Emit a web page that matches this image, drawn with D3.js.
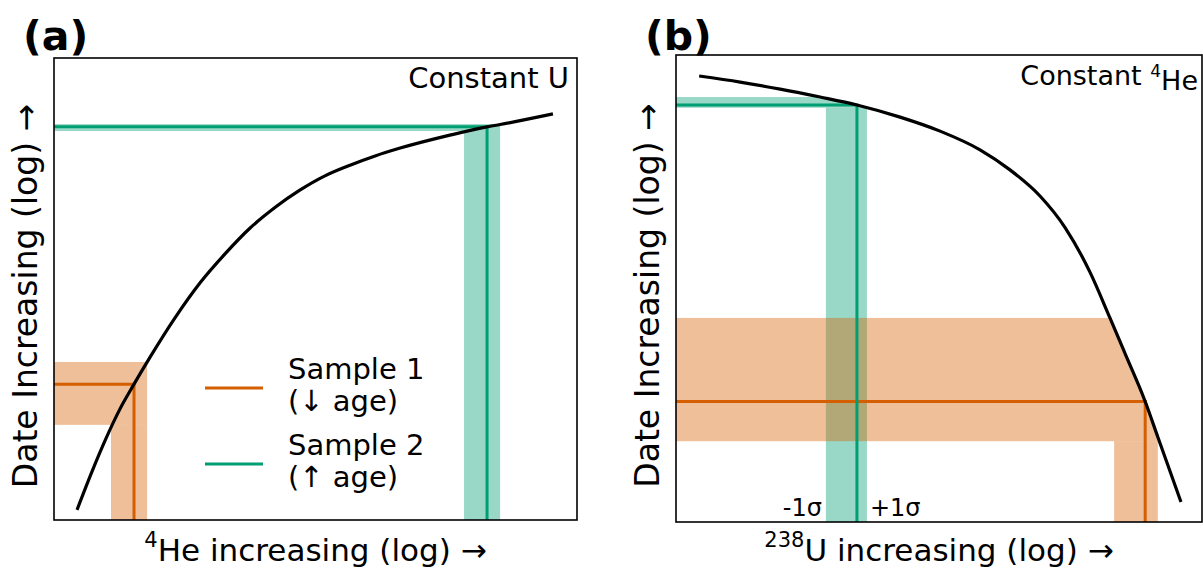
<!DOCTYPE html>
<html>
<head>
<meta charset="utf-8">
<script src="https://cdn.jsdelivr.net/npm/d3@7"></script>
<style>
  body { margin: 0; background: #fff; }
  svg text { font-family: "DejaVu Sans", sans-serif; fill: #000; }
</style>
</head>
<body>
<div id="chart"></div>
<script>
//data (both axes are relative log units, 0-100 across each panel)
//panel a: date vs 4He at constant U
var curveA = [
    [4.4, 2.2], [7.3, 10.6], [9.8, 17.3], [12.6, 24.0], [15.3, 29.4], [18.4, 35.3],
    [23.1, 43.7], [27.9, 51.3], [32.7, 57.6], [37.5, 63.2], [42.3, 67.7], [47.0, 71.4],
    [51.8, 74.5], [56.6, 76.8], [61.4, 78.8], [66.2, 80.5], [75.7, 83.3], [82.8, 85.1],
    [85.3, 85.6], [95.4, 87.9]
];
//panel b: date vs 238U at constant 4He
var curveB = [
    [4.4, 95.5], [12.2, 94.2], [19.8, 92.7], [27.4, 91.0], [34.4, 89.3], [42.6, 86.7],
    [50.2, 83.7], [57.8, 79.7], [63.5, 75.4], [69.2, 69.8], [74.0, 63.0], [78.7, 53.5],
    [82.5, 43.7], [85.4, 36.0], [89.2, 25.8], [91.6, 18.2], [96.0, 4.3]
];

//samples: x, x -1s, x +1s, date, date low, date high
var samplesA = [
    {name: 'Sample 1', x: 15.3, xLo: 10.9, xHi: 17.8, y: 29.4, yLo: 20.6, yHi: 34.2},
    {name: 'Sample 2', x: 82.8, xLo: 78.4, xHi: 85.3, y: 85.1, yLo: 84.2, yHi: 85.7}
];
var samplesB = [
    {name: 'Sample 1', x: 89.2, xLo: 83.3, xHi: 91.6, y: 25.8, yLo: 17.3, yHi: 43.7},
    {name: 'Sample 2', x: 34.4, xLo: 28.5, xHi: 36.3, y: 89.3, yLo: 88.7, yHi: 91.0}
];

var legendLabels = [['Sample 1', '(\u2193 age)'], ['Sample 2', '(\u2191 age)']];

//other
var sampleColors = {
    'Sample 1': '#d55e00',
    'Sample 2': '#009e73'
};
var bandOpacity = 0.4;

var svg = d3.select('#chart').append('svg')
    .attr('width', 1203)
    .attr('height', 568);

function addParts(textSel, parts, supSize) {
    parts.forEach(function(p) {
        textSel.append('tspan')
            .attr('dy', p.sup ? '-0.45em' : (p.after ? '0.45em' : null))
            .style('font-size', p.sup ? supSize : null)
            .text(p.t);
    });
}

function buildPanel(opts) {
    var x = d3.scaleLinear().domain([0, 100]).range([opts.left, opts.right]),
        y = d3.scaleLinear().domain([0, 100]).range([opts.bottom, opts.top]);

    var g = svg.append('g').attr('class', 'panel-' + opts.id);

    var line = d3.line()
        .x(function(d) { return x(d[0]); })
        .y(function(d) { return y(d[1]); })
        .curve(d3.curveMonotoneX);

    //clip the bands to the side of the curve they sit on
    var bandG = g.append('g');
    if (opts.clipBelow) {
        var first = opts.curve[0],
            last = opts.curve[opts.curve.length - 1];
        var clipPts = [[0, first[1]]].concat(opts.curve).concat([[last[0], 0], [0, 0]]);
        g.append('clipPath')
            .attr('id', 'clip-' + opts.id)
            .append('path')
            .attr('d', d3.line()
                .x(function(d) { return x(d[0]); })
                .y(function(d) { return y(d[1]); })
                .curve(d3.curveMonotoneX)(clipPts));
        bandG.attr('clip-path', 'url(#clip-' + opts.id + ')');
    }

    //green first, orange over it
    ['Sample 2', 'Sample 1'].forEach(function(name) {
        var s = opts.samples.filter(function(d) { return d.name == name; })[0];
        var c = sampleColors[name];
        //horizontal band (date range)
        bandG.append('rect')
            .attr('x', x(0))
            .attr('y', y(s.yHi))
            .attr('width', x(s.xHi) - x(0))
            .attr('height', y(s.yLo) - y(s.yHi))
            .attr('fill', c)
            .attr('fill-opacity', bandOpacity);
        //vertical band (x range), below the horizontal one
        bandG.append('rect')
            .attr('x', x(s.xLo))
            .attr('y', y(s.yLo))
            .attr('width', x(s.xHi) - x(s.xLo))
            .attr('height', y(0) - y(s.yLo))
            .attr('fill', c)
            .attr('fill-opacity', bandOpacity);
    });

    ['Sample 1', 'Sample 2'].forEach(function(name) {
        var s = opts.samples.filter(function(d) { return d.name == name; })[0];
        g.append('path')
            .attr('d', 'M' + x(0) + ',' + y(s.y) + 'H' + x(s.x) + 'V' + y(0))
            .attr('fill', 'none')
            .attr('stroke', sampleColors[name])
            .attr('stroke-width', 3);
    });

    g.append('path')
        .datum(opts.curve)
        .attr('d', line)
        .attr('fill', 'none')
        .attr('stroke', '#000')
        .attr('stroke-width', 3.2);

    //frame
    g.append('rect')
        .attr('x', x(0))
        .attr('y', y(100))
        .attr('width', x(100) - x(0))
        .attr('height', y(0) - y(100))
        .attr('fill', 'none')
        .attr('stroke', '#000')
        .attr('stroke-width', 1.6);

    //panel letter
    g.append('text')
        .attr('x', opts.left - 31)
        .attr('y', 50)
        .style('font-size', '41px')
        .style('font-weight', 'bold')
        .text('(' + opts.id + ')');

    //corner note
    var note = g.append('text')
        .attr('x', opts.noteX)
        .attr('y', y(100) + 30)
        .attr('text-anchor', 'end')
        .style('font-size', opts.noteSize);
    addParts(note, opts.note, '17px');

    //x label
    var xl = g.append('text')
        .attr('x', (x(0) + x(100)) / 2)
        .attr('y', 556)
        .attr('text-anchor', 'middle')
        .style('font-size', '31px');
    addParts(xl, opts.xLabel, '21px');

    //y label
    g.append('text')
        .attr('transform', 'translate(' + (opts.left - 17) + ',' + ((y(0) + y(100)) / 2 + 7) + ') rotate(-90)')
        .attr('text-anchor', 'middle')
        .style('font-size', '33px')
        .text('Date Increasing (log) \u2192');

    return {x: x, y: y, g: g};
}

var pa = buildPanel({
    id: 'a', left: 54, right: 577, top: 58, bottom: 520,
    curve: curveA, samples: samplesA, clipBelow: false,
    noteX: 569, noteSize: '29px',
    note: [{t: 'Constant U'}],
    xLabel: [{t: '4', sup: true}, {t: 'He increasing (log) \u2192', after: true}]
});

var pb = buildPanel({
    id: 'b', left: 676, right: 1202, top: 55, bottom: 522,
    curve: curveB, samples: samplesB, clipBelow: true,
    noteX: 1198, noteSize: '27px',
    note: [{t: 'Constant '}, {t: '4', sup: true}, {t: 'He', after: true}],
    xLabel: [{t: '238', sup: true}, {t: 'U increasing (log) \u2192', after: true}]
});

//sigma labels around green band in b
var sB = samplesB[1];
pb.g.append('text')
    .attr('x', pb.x(sB.xLo) - 4)
    .attr('y', 516)
    .attr('text-anchor', 'end')
    .style('font-size', '24px')
    .text('-1\u03c3');
pb.g.append('text')
    .attr('x', pb.x(sB.xHi) + 3)
    .attr('y', 516)
    .style('font-size', '24px')
    .text('+1\u03c3');

//legend in a
var legend = pa.g.append('g').attr('class', 'legend');
legendLabels.forEach(function(l, i) {
    var ly = 388 + i * 76;
    legend.append('line')
        .attr('x1', 205).attr('x2', 263)
        .attr('y1', ly).attr('y2', ly)
        .attr('stroke', sampleColors[l[0]])
        .attr('stroke-width', 3);
    legend.append('text')
        .attr('x', 288)
        .attr('y', ly - 9)
        .style('font-size', '29px')
        .text(l[0]);
    legend.append('text')
        .attr('x', 288)
        .attr('y', ly + 23)
        .style('font-size', '29px')
        .text(l[1]);
});
</script>
</body>
</html>
